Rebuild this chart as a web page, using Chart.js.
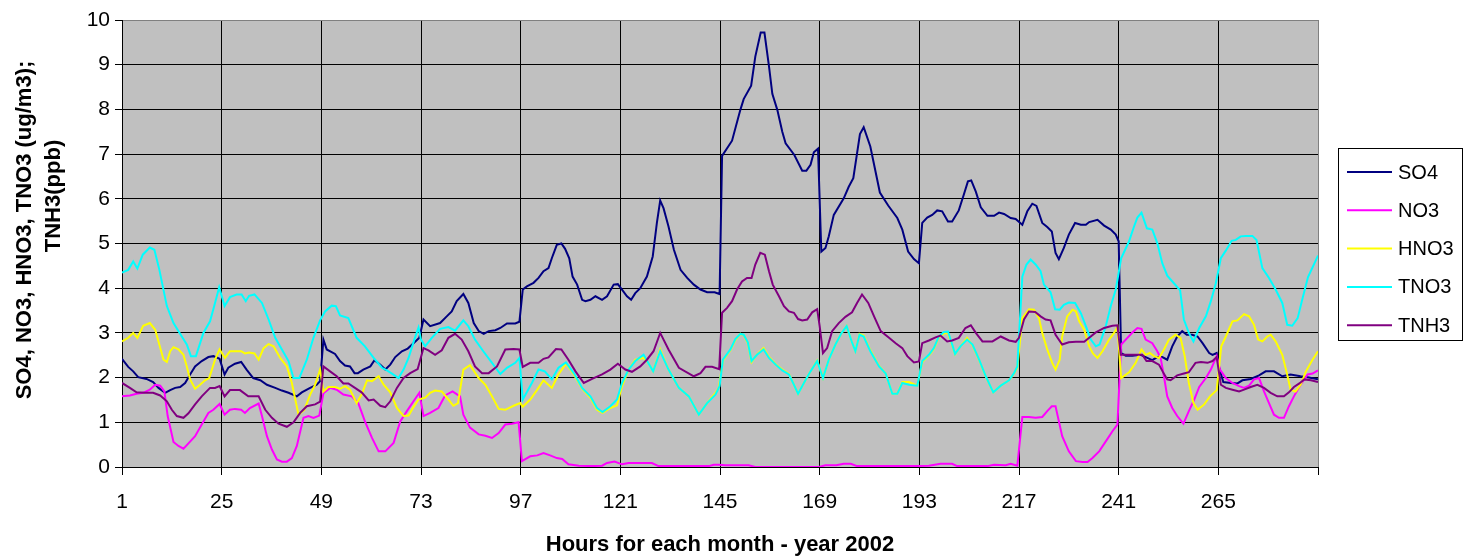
<!DOCTYPE html>
<html>
<head>
<meta charset="utf-8">
<script src="https://cdn.jsdelivr.net/npm/chart.js@4/dist/chart.umd.min.js"></script>
<style>
  html, body { margin: 0; padding: 0; background: #fff; }
  #wrap { width: 1463px; height: 556px; }
</style>
</head>
<body>
<div id="wrap"><canvas id="chart" width="1463" height="556"></canvas></div>
<script>
// tick labels
const hourTicks = [1, 25, 49, 73, 97, 121, 145, 169, 193, 217, 241, 265, 289];
const seriesNames = ['SO4', 'NO3', 'HNO3', 'TNO3', 'TNH3'];
const seriesColors = ['#000080', '#FF00FF', '#FFFF00', '#00FFFF', '#800080'];

// values (hour, value)
const so4Hours = [1, 2.5, 3.7, 4.9, 6.9, 8.5, 9.8, 11.4, 12.6, 13.8, 15, 16.2, 17.4, 18.6, 20.2, 21.8, 23, 24.5, 25.7, 26.6, 28.2, 29.7, 31, 32.6, 34.3, 35.9, 37.9, 39.5, 41.1, 43.1, 44.3, 46.3, 47.9, 48.7, 49.5, 50.3, 52.3, 53.5, 54.7, 55.9, 57, 57.8, 59.1, 60.8, 61.8, 63.2, 64.4, 65.6, 66.8, 68.4, 69.8, 71.2, 72.6, 73.6, 75.2, 77.6, 79.2, 80.4, 81.6, 83.2, 84.4, 85.7, 86.9, 88.1, 89.3, 90.9, 92.1, 93.7, 95.7, 96.7, 97.5, 98.5, 100.1, 101.3, 102.5, 103.7, 104.5, 105.7, 106.8, 107.7, 108.7, 109.5, 110.6, 111.8, 112.6, 113.8, 115, 116.6, 117.8, 119.4, 120.4, 121.4, 122.6, 123.6, 124.6, 125.8, 127.4, 128.8, 129.8, 130.6, 131.4, 132.6, 133.9, 135.5, 137.1, 138.7, 140.3, 141.9, 143.7, 144.9, 145.5, 147.9, 149.9, 150.7, 152.5, 153.5, 154.8, 155.7, 156.8, 157.6, 158.8, 160, 160.8, 162.9, 164.8, 165.8, 166.8, 167.6, 168.6, 169.4, 170.4, 171.2, 172.4, 174.8, 176, 177.1, 178.7, 179.6, 181.2, 183.5, 185.5, 187.7, 188.9, 190.3, 191.7, 192.9, 193.7, 194.9, 196.1, 197.3, 198.5, 199.9, 200.9, 202.5, 203.7, 204.7, 205.5, 206.6, 207.8, 209.4, 211, 212.2, 213.4, 215, 216.2, 217.8, 219, 220.2, 221.2, 222.6, 223.8, 224.9, 225.8, 226.6, 227.8, 229, 230.5, 231.9, 233.1, 233.9, 235.9, 237.5, 239.1, 240.3, 241, 241.6, 242.7, 244.3, 246.3, 247.9, 249.1, 250.3, 251.5, 252.7, 253.9, 255.1, 256.3, 257.4, 258.7, 260, 261.2, 262.8, 263.6, 264.6, 265.2, 266.2, 268, 269.6, 270.8, 272.8, 274.8, 276.4, 278.4, 280.4, 282.4, 284.8, 286.5, 289];
const so4Values = [2.42, 2.24, 2.14, 2.01, 1.97, 1.90, 1.77, 1.66, 1.72, 1.77, 1.79, 1.88, 2.07, 2.25, 2.37, 2.46, 2.48, 2.42, 2.07, 2.22, 2.31, 2.35, 2.18, 1.99, 1.94, 1.84, 1.77, 1.71, 1.66, 1.58, 1.67, 1.77, 1.84, 1.92, 2.85, 2.63, 2.53, 2.37, 2.27, 2.25, 2.10, 2.10, 2.18, 2.25, 2.39, 2.29, 2.18, 2.29, 2.46, 2.59, 2.65, 2.77, 2.89, 3.30, 3.15, 3.22, 3.37, 3.48, 3.71, 3.87, 3.67, 3.22, 3.04, 2.98, 3.04, 3.06, 3.11, 3.21, 3.21, 3.25, 3.97, 4.04, 4.12, 4.23, 4.38, 4.45, 4.67, 4.97, 5.00, 4.88, 4.67, 4.26, 4.08, 3.74, 3.71, 3.74, 3.82, 3.74, 3.82, 4.08, 4.09, 3.97, 3.82, 3.74, 3.89, 4.00, 4.26, 4.71, 5.46, 5.96, 5.79, 5.38, 4.86, 4.41, 4.23, 4.08, 3.97, 3.91, 3.91, 3.87, 6.96, 7.30, 7.99, 8.23, 8.53, 9.18, 9.72, 9.72, 8.96, 8.35, 7.99, 7.50, 7.24, 6.98, 6.63, 6.63, 6.76, 7.04, 7.12, 4.82, 4.90, 5.16, 5.64, 6.01, 6.27, 6.46, 7.45, 7.60, 7.17, 6.14, 5.85, 5.57, 5.31, 4.82, 4.65, 4.56, 5.46, 5.58, 5.64, 5.74, 5.72, 5.49, 5.49, 5.74, 6.09, 6.39, 6.41, 6.16, 5.81, 5.62, 5.62, 5.69, 5.66, 5.57, 5.55, 5.42, 5.72, 5.89, 5.84, 5.46, 5.37, 5.27, 4.79, 4.65, 4.90, 5.20, 5.46, 5.42, 5.42, 5.48, 5.53, 5.40, 5.31, 5.20, 5.05, 2.55, 2.49, 2.49, 2.51, 2.44, 2.39, 2.46, 2.46, 2.40, 2.70, 2.92, 3.04, 2.96, 2.96, 2.92, 2.77, 2.55, 2.51, 2.55, 2.22, 1.90, 1.88, 1.87, 1.94, 1.97, 2.05, 2.14, 2.14, 2.03, 2.07, 2.03, 2.01, 1.96];

const no3Hours = [1, 2.9, 4.5, 6.1, 7.7, 9, 10.2, 11.2, 12, 13.4, 14.6, 15.8, 17, 18.6, 20.2, 21.8, 23, 24.5, 25.7, 27, 28.2, 29.7, 30.6, 31.8, 33.9, 34.7, 35.9, 37.1, 38.3, 39.5, 40.7, 41.9, 43.1, 44.7, 45.9, 47.1, 48.5, 49.5, 51.1, 52.7, 54.3, 56.3, 57.9, 59.5, 61.2, 62.8, 64.4, 66.4, 68, 69.6, 71.2, 72.6, 73.6, 75.2, 77.2, 78.8, 80.6, 82.4, 83.2, 84.8, 86.9, 88.5, 90.1, 91.7, 93.3, 94.9, 96.5, 97.3, 99.3, 101, 102.5, 104.1, 105.7, 107, 108.5, 111, 114.2, 116.6, 117.8, 119.6, 121.4, 123, 128.6, 130.2, 142.3, 143.5, 144.7, 146.3, 151.9, 153.5, 168.8, 170.4, 173, 174.8, 176.5, 178, 192.1, 195.3, 198.1, 200.9, 202.1, 209.4, 211, 213.8, 215, 216.6, 217.8, 219.4, 221, 222.6, 223.8, 224.9, 225.8, 227.4, 229, 230.7, 232.3, 233.5, 234.7, 236.3, 238.3, 239.5, 240.7, 241.6, 243.1, 244.3, 245.5, 246.5, 247.5, 249.1, 250.3, 251.1, 251.9, 252.7, 253.9, 255.1, 256.6, 257.9, 259.2, 260.4, 262, 263.2, 264.6, 265.4, 266.8, 268.4, 270, 271.2, 272.4, 273.6, 274.8, 276, 277.2, 278.4, 279.6, 280.8, 282, 283.2, 284.8, 286.5, 287.7, 289];
const no3Values = [1.58, 1.60, 1.64, 1.66, 1.73, 1.84, 1.82, 1.69, 1.14, 0.56, 0.47, 0.41, 0.53, 0.69, 0.95, 1.21, 1.28, 1.41, 1.17, 1.28, 1.30, 1.28, 1.21, 1.32, 1.42, 1.14, 0.69, 0.39, 0.17, 0.12, 0.12, 0.20, 0.47, 1.10, 1.14, 1.10, 1.15, 1.65, 1.77, 1.73, 1.62, 1.58, 1.43, 1.02, 0.65, 0.35, 0.35, 0.54, 1.02, 1.25, 1.47, 1.66, 1.14, 1.21, 1.32, 1.60, 1.69, 1.58, 1.17, 0.88, 0.73, 0.70, 0.65, 0.76, 0.95, 0.97, 1.00, 0.13, 0.24, 0.26, 0.31, 0.26, 0.20, 0.18, 0.06, 0.03, 0.02, 0.03, 0.09, 0.12, 0.06, 0.09, 0.09, 0.02, 0.02, 0.05, 0.05, 0.04, 0.04, 0.00, 0.00, 0.04, 0.04, 0.07, 0.07, 0.02, 0.02, 0.03, 0.07, 0.07, 0.02, 0.02, 0.05, 0.04, 0.07, 0.03, 1.12, 1.12, 1.10, 1.12, 1.25, 1.36, 1.36, 0.69, 0.35, 0.13, 0.11, 0.11, 0.20, 0.35, 0.63, 0.80, 0.95, 2.74, 2.89, 3.01, 3.11, 3.09, 2.85, 2.77, 2.59, 2.44, 2.03, 1.58, 1.32, 1.14, 0.97, 1.25, 1.51, 1.79, 1.99, 2.18, 2.48, 2.18, 1.99, 1.88, 1.81, 1.77, 1.82, 1.96, 1.99, 1.69, 1.43, 1.17, 1.10, 1.10, 1.36, 1.58, 1.84, 2.07, 2.09, 2.16];

const hno3Hours = [1, 2.5, 3.7, 4.7, 6.1, 7.7, 9, 9.9, 11, 11.8, 12.6, 13.4, 14.6, 15.8, 16.6, 17.4, 18.6, 19.8, 21, 22, 23.4, 24.5, 25.8, 27, 28.2, 29.7, 30.6, 31.6, 32.9, 33.9, 35.1, 36.3, 37.5, 39.1, 40.7, 41.9, 43.5, 44.9, 46.3, 47.5, 48.7, 49.5, 50.7, 52.3, 53.5, 54.7, 55.9, 57.5, 58.7, 60, 61.2, 62.8, 64, 65.6, 67.2, 68.8, 70, 71.2, 72.4, 74, 75.2, 76.4, 78, 79.6, 80.8, 81.9, 83.2, 84.8, 86.9, 88.5, 90.1, 91.7, 93.3, 95.3, 96.9, 97.5, 99.3, 101, 102.5, 104.5, 106.1, 107.9, 109.8, 111.8, 113.8, 115.4, 116.7, 118.6, 120.2, 121.4, 123, 124.6, 126.6, 127.7, 128.9, 130.6, 132.6, 135.1, 137.5, 139.9, 141.9, 143.9, 144.7, 145.7, 147.5, 148.7, 149.9, 150.7, 151.7, 152.6, 153.9, 155.5, 156.8, 158.4, 160, 161.6, 162.8, 163.8, 165.2, 166.8, 168.4, 169.8, 171.2, 172.8, 174.3, 175.5, 176.7, 177.6, 178.6, 179.6, 181.2, 183.3, 184.9, 186.5, 187.7, 188.9, 190.5, 192.5, 193.7, 195.3, 196.5, 197.7, 198.9, 199.9, 200.8, 201.6, 202.9, 204.5, 205.8, 207.4, 209, 210.8, 212.6, 214.6, 215.8, 216.6, 217.8, 219.4, 220.6, 221.8, 222.6, 223.8, 225, 225.8, 226.8, 227.4, 228.6, 229.9, 230.7, 231.5, 232.7, 233.9, 234.8, 235.9, 237.1, 238.7, 239.9, 240.7, 241.6, 243.5, 245.1, 246.5, 247.5, 248.5, 249.5, 250.7, 251.9, 253.1, 254.7, 255.9, 256.9, 257.9, 259, 260, 261.6, 263, 264.6, 265.7, 266.8, 268.4, 269.6, 271.2, 272.4, 273.6, 274.6, 275.6, 276.8, 277.6, 278.8, 280.4, 281.5, 282.4, 283.6, 284.8, 286.1, 287.5, 289];
const hno3Values = [2.81, 2.89, 3.00, 2.89, 3.16, 3.22, 3.07, 2.77, 2.40, 2.35, 2.59, 2.68, 2.63, 2.51, 2.25, 1.96, 1.75, 1.84, 1.94, 1.99, 2.40, 2.63, 2.44, 2.59, 2.59, 2.59, 2.54, 2.56, 2.54, 2.40, 2.66, 2.75, 2.70, 2.44, 2.25, 1.88, 1.17, 1.28, 1.62, 1.84, 2.18, 1.69, 1.79, 1.79, 1.75, 1.81, 1.73, 1.43, 1.62, 1.94, 1.92, 2.03, 1.84, 1.67, 1.32, 1.14, 1.15, 1.34, 1.51, 1.55, 1.66, 1.71, 1.69, 1.51, 1.37, 1.43, 2.18, 2.28, 1.99, 1.84, 1.58, 1.30, 1.28, 1.37, 1.43, 1.35, 1.51, 1.73, 1.94, 1.77, 2.07, 2.31, 2.07, 1.75, 1.55, 1.28, 1.21, 1.32, 1.38, 1.81, 2.18, 2.40, 2.44, 2.33, 2.14, 2.63, 2.18, 1.77, 1.58, 1.17, 1.43, 1.66, 1.77, 2.38, 2.61, 2.84, 2.98, 2.95, 2.77, 2.35, 2.52, 2.66, 2.46, 2.30, 2.18, 2.08, 1.84, 1.64, 1.88, 2.14, 2.38, 1.99, 2.40, 2.74, 3.00, 3.15, 2.81, 2.59, 2.98, 2.94, 2.61, 2.26, 2.09, 1.64, 1.64, 1.90, 1.90, 1.82, 2.35, 2.49, 2.64, 2.90, 2.99, 2.99, 2.75, 2.52, 2.70, 2.89, 2.72, 2.39, 2.02, 1.67, 1.82, 1.94, 2.09, 2.22, 3.33, 3.53, 3.52, 3.33, 3.00, 2.63, 2.33, 2.18, 2.40, 2.92, 3.37, 3.52, 3.48, 3.26, 3.07, 2.70, 2.54, 2.44, 2.59, 2.85, 3.00, 3.13, 1.99, 2.12, 2.33, 2.63, 2.51, 2.55, 2.48, 2.44, 2.63, 2.85, 2.96, 2.89, 2.48, 1.88, 1.43, 1.28, 1.40, 1.58, 1.72, 2.70, 2.92, 3.26, 3.28, 3.42, 3.37, 3.18, 2.85, 2.81, 2.92, 2.96, 2.81, 2.51, 2.10, 1.73, 1.69, 1.84, 2.14, 2.37, 2.59];

const tno3Hours = [1, 2.5, 3.7, 4.7, 6, 7.7, 8.8, 10, 11.8, 13.4, 15.4, 16.6, 17.6, 18.8, 20.6, 22.2, 23.4, 24.4, 25.7, 27, 28.6, 29.8, 30.8, 31.6, 32.9, 34.7, 36.3, 37.9, 39.5, 41.1, 42.3, 43.7, 45.5, 47.1, 48.7, 49.9, 51.5, 52.5, 53.5, 55.5, 57.5, 59.5, 61.6, 63.6, 64.8, 66, 67.6, 68.8, 70, 71.4, 72.4, 73, 74, 75.6, 77.6, 79.6, 81.2, 83.2, 84.4, 86, 88, 90.1, 92.1, 93.7, 95.7, 96.7, 97.5, 99.7, 101.3, 102.8, 104.5, 106.1, 107.9, 109.8, 111.8, 113.8, 115.4, 116.7, 118.6, 120.2, 121.4, 123, 124.6, 126.6, 127.7, 128.9, 130.6, 132.6, 135.1, 137.5, 139.9, 141.9, 143.9, 144.9, 145.7, 147.5, 148.7, 149.9, 150.7, 151.7, 152.6, 153.9, 155.5, 156.8, 158.4, 160, 161.6, 162.8, 163.8, 165.2, 166.8, 168.4, 169.8, 171.2, 172.8, 174.3, 175.5, 176.7, 177.6, 178.6, 179.6, 181.2, 183.3, 184.9, 186.5, 187.7, 188.9, 190.5, 192.5, 193.7, 195.3, 196.5, 197.7, 198.9, 199.9, 200.8, 201.6, 202.9, 204.5, 205.8, 207.4, 209, 210.8, 212.6, 214.6, 215.8, 216.6, 217.8, 218.8, 219.8, 221, 222.2, 223, 224.6, 225.7, 226.8, 227.8, 229, 230.5, 231.9, 233.1, 234.3, 235.5, 236.4, 237.9, 239.1, 240.3, 241.6, 243.5, 244.7, 245.5, 246.5, 247.8, 249.1, 250.3, 251.5, 252.7, 254.3, 255.8, 256.7, 257.9, 259, 260.4, 262, 263.2, 264.4, 265.6, 266.8, 268.2, 269.2, 270.4, 271.6, 273.2, 274.2, 275.6, 277.2, 278.8, 280.4, 281.6, 282.8, 284.1, 285.3, 286.6, 289];
const tno3Values = [4.35, 4.41, 4.60, 4.44, 4.75, 4.91, 4.86, 4.41, 3.60, 3.22, 2.92, 2.74, 2.48, 2.48, 3.00, 3.26, 3.67, 4.02, 3.60, 3.80, 3.86, 3.86, 3.71, 3.83, 3.86, 3.67, 3.30, 2.89, 2.63, 2.37, 1.99, 1.99, 2.40, 2.89, 3.28, 3.48, 3.61, 3.60, 3.39, 3.33, 2.89, 2.70, 2.44, 2.22, 2.16, 2.09, 1.99, 2.18, 2.44, 2.85, 3.12, 2.85, 2.70, 2.89, 3.09, 3.13, 3.05, 3.28, 3.15, 2.85, 2.59, 2.33, 2.08, 2.22, 2.33, 2.44, 1.51, 1.88, 2.18, 2.14, 1.96, 2.22, 2.34, 2.10, 1.77, 1.58, 1.32, 1.23, 1.36, 1.51, 1.88, 2.18, 2.37, 2.51, 2.33, 2.14, 2.59, 2.18, 1.77, 1.58, 1.17, 1.43, 1.62, 1.81, 2.40, 2.63, 2.86, 2.98, 2.96, 2.79, 2.37, 2.51, 2.63, 2.44, 2.29, 2.16, 2.07, 1.84, 1.64, 1.88, 2.14, 2.37, 1.99, 2.40, 2.74, 3.00, 3.15, 2.81, 2.59, 2.96, 2.92, 2.59, 2.25, 2.09, 1.64, 1.64, 1.88, 1.84, 1.82, 2.37, 2.51, 2.66, 2.92, 3.02, 3.03, 2.77, 2.53, 2.70, 2.85, 2.74, 2.40, 2.03, 1.67, 1.82, 1.94, 2.10, 2.25, 4.26, 4.53, 4.64, 4.53, 4.38, 4.08, 3.91, 3.53, 3.52, 3.63, 3.68, 3.67, 3.44, 3.15, 2.85, 2.70, 2.74, 3.15, 3.60, 3.97, 4.67, 5.05, 5.38, 5.58, 5.69, 5.34, 5.31, 5.01, 4.56, 4.28, 4.11, 3.95, 3.30, 3.00, 2.81, 3.11, 3.37, 3.71, 4.11, 4.67, 4.84, 5.06, 5.08, 5.16, 5.17, 5.17, 5.08, 4.45, 4.23, 3.97, 3.67, 3.18, 3.16, 3.33, 3.78, 4.25, 4.73];

const tnh3Hours = [1, 2.9, 4.5, 6.5, 8.5, 10.2, 11.8, 13, 14.2, 15.8, 17, 18.6, 20.2, 22.2, 23.4, 24.5, 25.7, 27, 29.4, 31.4, 33.9, 35.5, 37.1, 38.7, 40.7, 42.3, 43.9, 45.5, 47.5, 48.7, 49.5, 51.1, 52.7, 54.3, 55.5, 57.1, 58.7, 60.4, 61.6, 63.2, 64.4, 65.6, 67.2, 68.8, 70.4, 72.2, 73.6, 74.8, 76.4, 78, 79.6, 81.2, 82.8, 84.4, 86, 87.7, 89.3, 91.3, 93.3, 95.3, 96.7, 97.5, 99.3, 101.3, 102.5, 103.7, 105.5, 106.8, 108.5, 110.2, 112.2, 114.2, 116.6, 118.6, 120.4, 122.2, 123.8, 125.8, 127.4, 129, 130.6, 132.6, 135.1, 138.7, 140.3, 141.5, 143.1, 144.8, 145.5, 146.7, 147.9, 149.1, 150.3, 151.5, 152.6, 153.5, 154.7, 155.8, 156.8, 157.7, 159.2, 160.4, 161.6, 162.8, 163.8, 164.8, 166, 167.2, 168.4, 169, 169.8, 170.8, 172, 173.6, 175.2, 176.8, 178, 179.2, 180.7, 182.1, 183.7, 185.7, 187.3, 188.9, 190.1, 191.7, 192.9, 193.7, 195.3, 196.9, 198.1, 199.7, 200.9, 202.5, 204.1, 205.4, 206.6, 208.2, 210.6, 212.6, 214.6, 216.2, 217, 218.2, 219.4, 220.9, 222.2, 223.4, 224.6, 225.8, 227.4, 229, 230.7, 232.7, 233.9, 235.5, 237.5, 239.5, 240.7, 241.5, 245.1, 246.7, 247.7, 249.1, 250.7, 251.8, 252.7, 253.5, 255.1, 256.7, 257.9, 259.5, 260.8, 262.4, 263.6, 264.6, 265.6, 266.8, 268.4, 270, 271.2, 272.8, 274.4, 276, 277.6, 279.2, 280.8, 282, 283.2, 284.5, 285.7, 287.3, 289];
const tnh3Values = [1.88, 1.77, 1.67, 1.66, 1.66, 1.60, 1.47, 1.28, 1.14, 1.10, 1.20, 1.40, 1.58, 1.77, 1.77, 1.81, 1.58, 1.72, 1.72, 1.58, 1.58, 1.28, 1.10, 0.97, 0.90, 1.00, 1.21, 1.36, 1.40, 1.46, 2.25, 2.14, 2.03, 1.87, 1.87, 1.77, 1.67, 1.49, 1.51, 1.37, 1.34, 1.47, 1.77, 1.99, 2.10, 2.19, 2.66, 2.61, 2.51, 2.61, 2.89, 2.98, 2.85, 2.59, 2.25, 2.10, 2.10, 2.25, 2.63, 2.64, 2.63, 2.24, 2.33, 2.33, 2.42, 2.45, 2.64, 2.63, 2.40, 2.14, 1.88, 1.97, 2.07, 2.18, 2.31, 2.18, 2.13, 2.25, 2.40, 2.59, 3.00, 2.63, 2.22, 2.03, 2.10, 2.24, 2.24, 2.19, 3.45, 3.56, 3.71, 3.97, 4.15, 4.23, 4.23, 4.53, 4.79, 4.75, 4.38, 4.08, 3.82, 3.60, 3.48, 3.45, 3.31, 3.28, 3.30, 3.46, 3.53, 3.15, 2.55, 2.66, 3.04, 3.22, 3.36, 3.46, 3.67, 3.86, 3.67, 3.37, 3.04, 2.89, 2.77, 2.66, 2.48, 2.34, 2.36, 2.77, 2.83, 2.90, 2.94, 2.81, 2.83, 2.89, 3.11, 3.17, 3.00, 2.81, 2.81, 2.92, 2.83, 2.80, 2.89, 3.30, 3.48, 3.47, 3.37, 3.30, 3.28, 2.96, 2.74, 2.79, 2.80, 2.80, 2.89, 3.01, 3.11, 3.16, 3.17, 2.51, 2.51, 2.51, 2.37, 2.37, 2.29, 2.10, 1.96, 1.94, 2.05, 2.09, 2.12, 2.33, 2.35, 2.33, 2.37, 2.46, 1.84, 1.77, 1.73, 1.69, 1.73, 1.79, 1.84, 1.77, 1.66, 1.58, 1.58, 1.67, 1.79, 1.87, 1.96, 1.94, 1.90];

const seriesHours = [so4Hours, no3Hours, hno3Hours, tno3Hours, tnh3Hours];
const seriesValues = [so4Values, no3Values, hno3Values, tno3Values, tnh3Values];

const datasets = seriesNames.map((name, i) => ({
  label: name,
  data: seriesHours[i].map((h, j) => ({ x: h, y: seriesValues[i][j] })),
  borderColor: seriesColors[i],
  backgroundColor: seriesColors[i],
  borderWidth: 2,
  pointRadius: 0,
  tension: 0,
  fill: false,
  // later series drawn on top, like the original
  order: seriesNames.length - i
}));

// grey plot background
const plotBackground = {
  id: 'plotBackground',
  beforeDraw(chart) {
    const { ctx, chartArea: a } = chart;
    ctx.save();
    ctx.fillStyle = '#C0C0C0';
    ctx.fillRect(a.left, a.top, a.right - a.left, a.bottom - a.top);
    ctx.restore();
  }
};

// two-line rotated y title and boxed legend
const annotations = {
  id: 'annotations',
  afterDraw(chart) {
    const ctx = chart.ctx;
    ctx.save();
    ctx.fillStyle = '#000';
    ctx.font = 'bold 22px "Liberation Sans", Arial, sans-serif';
    ctx.textAlign = 'center';
    ctx.textBaseline = 'middle';
    const yTitle = ['SO4, NO3, HNO3, TNO3 (ug/m3);', 'TNH3(ppb)'];
    const yTitlePos = [[25, 230], [54, 196]];
    yTitle.forEach((t, i) => {
      ctx.save();
      ctx.translate(yTitlePos[i][0], yTitlePos[i][1]);
      ctx.rotate(-Math.PI / 2);
      ctx.fillText(t, 0, 0);
      ctx.restore();
    });

    // legend
    ctx.strokeStyle = '#000';
    ctx.lineWidth = 1;
    ctx.strokeRect(1338.5, 148.5, 124, 192);
    ctx.font = '20px "Liberation Sans", Arial, sans-serif';
    ctx.textAlign = 'left';
    chart.data.datasets.forEach((ds, i) => {
      const y = 172 + i * 38.3;
      ctx.strokeStyle = ds.borderColor;
      ctx.lineWidth = 2;
      ctx.beginPath();
      ctx.moveTo(1347, y);
      ctx.lineTo(1392, y);
      ctx.stroke();
      ctx.fillStyle = '#000';
      ctx.fillText(ds.label, 1398, y + 1);
    });
    ctx.restore();
  }
};

new Chart(document.getElementById('chart'), {
  type: 'line',
  data: { datasets },
  plugins: [plotBackground, annotations],
  options: {
    responsive: false,
    animation: false,
    devicePixelRatio: 1,
    layout: { padding: { left: 0, top: 20, right: 145, bottom: 0 } },
    plugins: {
      legend: { display: false },
      tooltip: { enabled: false }
    },
    scales: {
      x: {
        type: 'linear',
        min: 1,
        max: 289,
        afterBuildTicks: (axis) => { axis.ticks = hourTicks.map(v => ({ value: v })); },
        afterFit: (s) => { s.height = 89; },
        grid: {
          color: (c) => (c.tick && c.tick.value === 289 ? '#808080' : '#000'),
          tickColor: '#000',
          lineWidth: 1,
          tickLength: 8
        },
        border: { display: true, color: '#000', width: 1 },
        ticks: {
          autoSkip: false,
          maxRotation: 0,
          padding: 15,
          color: '#000',
          font: { family: '"Liberation Sans", Arial, sans-serif', size: 21 },
          callback: (v) => (v === 289 ? '' : v)
        },
        title: {
          display: true,
          text: 'Hours for each month - year 2002',
          color: '#000',
          font: { family: '"Liberation Sans", Arial, sans-serif', size: 22, weight: 'bold', lineHeight: 1 },
          padding: { top: 0, bottom: 0 }
        }
      },
      y: {
        min: 0,
        max: 10,
        afterFit: (s) => { s.width = 122; },
        grid: {
          color: (c) => (c.tick && c.tick.value === 10 ? '#808080' : '#000'),
          tickColor: '#000',
          lineWidth: 1,
          tickLength: 7
        },
        border: { display: true, color: '#000', width: 1 },
        ticks: {
          stepSize: 1,
          padding: 5,
          color: '#000',
          font: { family: '"Liberation Sans", Arial, sans-serif', size: 21 }
        }
      }
    }
  }
});
</script>
</body>
</html>
